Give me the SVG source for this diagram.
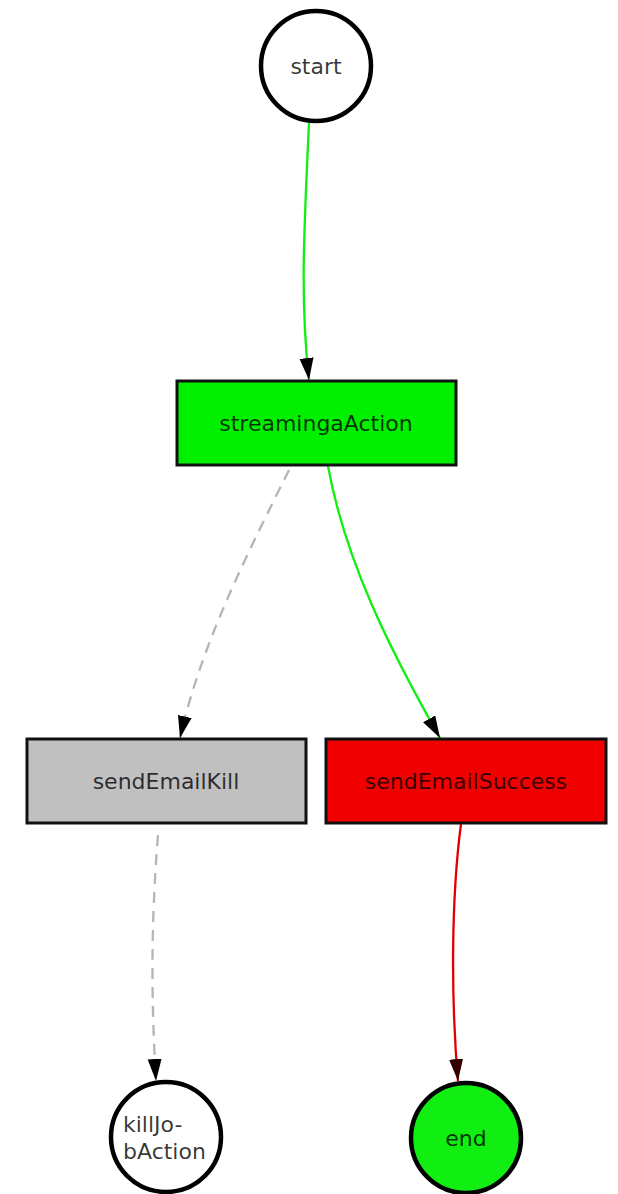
<svg xmlns="http://www.w3.org/2000/svg" width="618" height="1194" viewBox="0 0 618 1194">
<style>
.box{stroke:#111;stroke-width:3}
.circ{stroke:#000;stroke-width:4.5}
.lbl{font-family:"DejaVu Sans",sans-serif;font-size:22px;fill:#000;fill-opacity:0.78;text-anchor:middle}
.edge{fill:none;stroke-width:2.3}
.dash{stroke:#b5b5b5;stroke-dasharray:11,8}
</style>
<defs>
<marker id="ah" markerUnits="userSpaceOnUse" markerWidth="24" markerHeight="16" refX="22" refY="7" orient="auto">
<path d="M0,0 L22,7 L0,14 Z" fill="#000"/>
</marker>
<marker id="ahr" markerUnits="userSpaceOnUse" markerWidth="24" markerHeight="16" refX="22" refY="7" orient="auto">
<path d="M0,0 L22,7 L0,14 Z" fill="#300"/>
</marker>
</defs>
<rect width="618" height="1194" fill="#fff"/>
<g id="connectors">
<path class="edge" stroke="#11ee11" d="M309,123 C304,230 300,300 309,380" marker-end="url(#ah)"/>
<path class="edge dash" d="M289,470 C252,545 202,640 180,738" marker-end="url(#ah)"/>
<path class="edge" stroke="#11ee11" d="M328,466 C345,560 390,650 440,738" marker-end="url(#ah)"/>
<path class="edge dash" d="M158,835 C151,920 151,1000 156,1081" marker-end="url(#ah)"/>
<path class="edge" stroke="#e00000" d="M461,824 C451,900 451,1000 458,1081" marker-end="url(#ahr)"/>
</g>
<g id="start">
<circle class="circ" cx="316" cy="66" r="55" fill="#fff"/>
<text class="lbl" x="316" y="74">start</text>
</g>
<g id="streamingaAction">
<rect class="box" x="177" y="381" width="279" height="84" fill="#00f000"/>
<text class="lbl" x="316" y="431">streamingaAction</text>
</g>
<g id="sendEmailKill">
<rect class="box" x="27" y="739" width="279" height="84" fill="#c0c0c0"/>
<text class="lbl" x="166" y="789">sendEmailKill</text>
</g>
<g id="sendEmailSuccess">
<rect class="box" x="326" y="739" width="280" height="84" fill="#f00000"/>
<text class="lbl" x="466" y="789">sendEmailSuccess</text>
</g>
<g id="killJobAction">
<circle class="circ" cx="166" cy="1137" r="55" fill="#fff"/>
<text class="lbl" style="text-anchor:start" x="123" y="1132">killJo-</text>
<text class="lbl" style="text-anchor:start" x="123" y="1159">bAction</text>
</g>
<g id="end">
<circle class="circ" cx="466" cy="1138" r="55" fill="#11ee11"/>
<text class="lbl" x="466" y="1146">end</text>
</g>
</svg>
